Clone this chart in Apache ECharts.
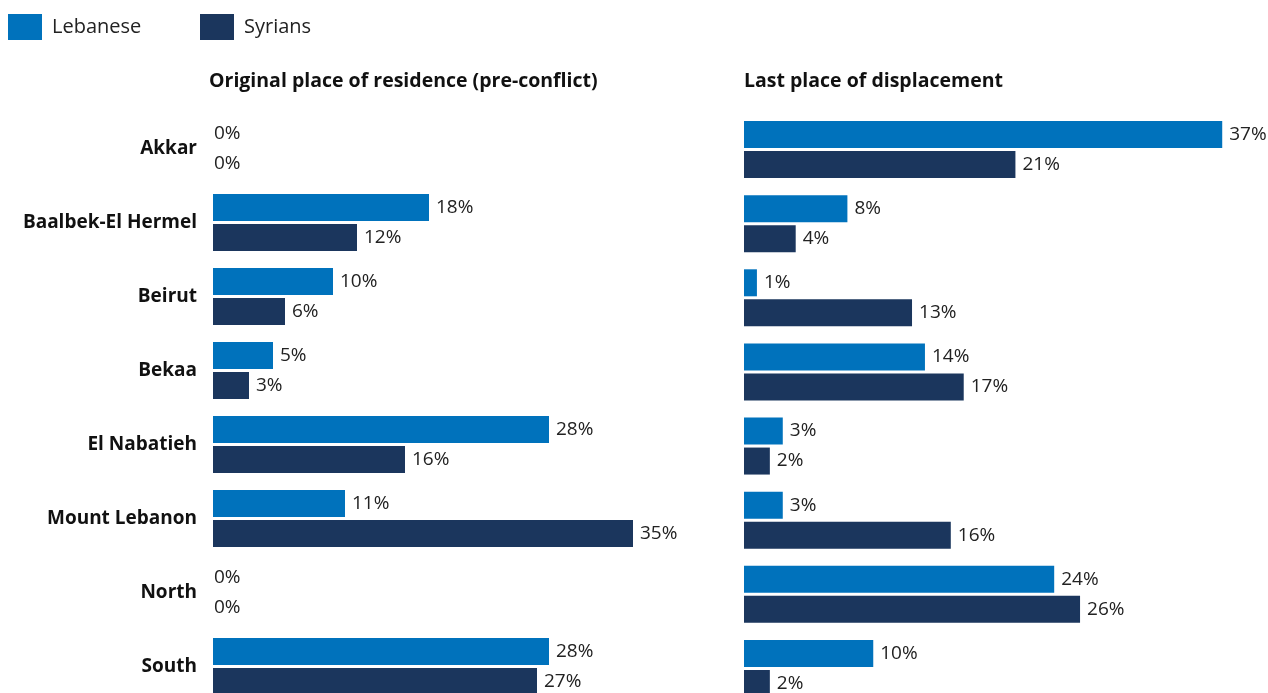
<!DOCTYPE html>
<html>
<head>
<meta charset="utf-8">
<script src="https://cdn.jsdelivr.net/npm/echarts@6/dist/echarts.min.js"></script>
<style>
  html, body { margin: 0; padding: 0; background: #fff; }
  #chart { width: 1268px; height: 693px; }
</style>
</head>
<body>
<div id="chart"></div>
<script>
// regions (top to bottom)
var regions = ['Akkar', 'Baalbek-El Hermel', 'Beirut', 'Bekaa', 'El Nabatieh', 'Mount Lebanon', 'North', 'South'];
// original place of residence (pre-conflict), %
var origLebanese = [0, 18, 10, 5, 28, 11, 0, 28];
var origSyrians  = [0, 12, 6, 3, 16, 35, 0, 27];
// last place of displacement, %
var lastLebanese = [37, 8, 1, 14, 3, 3, 24, 10];
var lastSyrians  = [21, 4, 13, 17, 2, 16, 26, 2];

var FONT = 'Open Sans';
var FS = 19;
var cLeb = '#0072bc';
var cSyr = '#1b365d';

var myChart = echarts.init(document.getElementById('chart'));

// zero bars get their label right on the axis
function toData(arr) {
	return arr.map(function (v) {
		return v === 0 ? { value: v, label: { distance: 1 } } : v;
	});
}

function barSeries(name, data, color, idx) {
	return {
		name: name,
		type: 'bar',
		xAxisIndex: idx,
		yAxisIndex: idx,
		data: toData(data),
		barWidth: 27,
		barGap: '11%',
		itemStyle: { color: color },
		label: {
			show: true,
			position: 'right',
			distance: 7,
			formatter: '{c}%',
			color: '#222',
			fontFamily: FONT,
			fontSize: FS
		},
		emphasis: { disabled: true },
		animation: false
	};
}

var legendText = { fontSize: 20, color: '#222', fontFamily: FONT, padding: [0, 0, 0, 5] };

var option = {
	textStyle: { fontFamily: FONT },
	legend: [{
		left: 8, top: 14, padding: 0,
		itemWidth: 34, itemHeight: 26,
		icon: 'rect',
		data: ['Lebanese'],
		textStyle: legendText,
		selectedMode: false
	}, {
		left: 200, top: 14, padding: 0,
		itemWidth: 34, itemHeight: 26,
		icon: 'rect',
		data: ['Syrians'],
		textStyle: legendText,
		selectedMode: false
	}],
	title: [{
		text: 'Original place of residence (pre-conflict)',
		left: 204, top: 66,
		textStyle: { fontSize: 19.5, fontWeight: 'bold', color: '#111', fontFamily: FONT }
	}, {
		text: 'Last place of displacement',
		left: 739, top: 66,
		textStyle: { fontSize: 19.5, fontWeight: 'bold', color: '#111', fontFamily: FONT }
	}],
	// categories sit on the ticks so the first/last pair centres can be pinned
	grid: [
		{ left: 213, top: 148.5, width: 480, height: 518 },
		{ left: 744, top: 149.5, width: 517, height: 519 }
	],
	xAxis: [0, 1].map(function (i) {
		return {
			type: 'value', gridIndex: i, min: 0, max: 40,
			show: false
		};
	}),
	yAxis: [0, 1].map(function (i) {
		return {
			type: 'category', gridIndex: i, data: regions, inverse: true,
			boundaryGap: false,
			axisLine: { show: false },
			axisTick: { show: false },
			splitLine: { show: false },
			axisLabel: {
				show: i === 0,
				margin: 16,
				fontSize: FS,
				fontWeight: 'bold',
				color: '#111',
				fontFamily: FONT
			}
		};
	}),
	series: [
		barSeries('Lebanese', origLebanese, cLeb, 0),
		barSeries('Syrians', origSyrians, cSyr, 0),
		barSeries('Lebanese', lastLebanese, cLeb, 1),
		barSeries('Syrians', lastSyrians, cSyr, 1)
	]
};

myChart.setOption(option);
</script>
</body>
</html>
